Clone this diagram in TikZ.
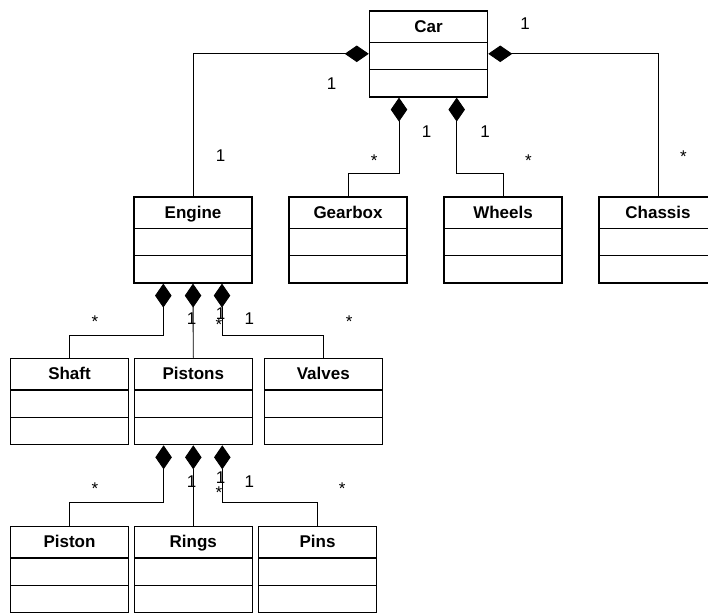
\documentclass[tikz,border=0pt]{standalone}
\usepackage{fontspec}
\setmainfont{Liberation Sans}
\usetikzlibrary{arrows.meta,positioning,shapes.multipart}

\begin{document}
\begin{tikzpicture}[x=1pt,y=-1pt,
  cls/.style={rectangle split,rectangle split parts=3,draw,line width=1.5pt,
    text width=110pt,inner xsep=4pt,inner ysep=0pt,align=center,anchor=north,
    font=\fontsize{17}{20}\selectfont\bfseries,
    rectangle split ignore empty parts=false,
    rectangle split empty part height=25.8pt,rectangle split empty part depth=0pt,
    execute at begin node=\rule[-9.3pt]{0pt}{30pt}},
  comp/.style={{Diamond[length=24pt,width=16.5pt]}-,line width=0.9pt},
  mult/.style={font=\fontsize{17}{20}\selectfont,inner sep=0pt,anchor=base}]

  \useasboundingbox (0,0) rectangle (708,613);

  \node[cls] (car) at (428.5,10) {Car};

  \node[cls] (engine) at (193,196) {Engine};
  \node[cls] (gearbox) at (348,196) {Gearbox};
  \node[cls] (wheels) at (503,196) {Wheels};
  \node[cls] (chassis) at (658,196) {Chassis};

  \node[cls] (shaft) at (69.5,357.7) {Shaft};
  \node[cls] (pistons) at (193.3,357.7) {Pistons};
  \node[cls] (valves) at (323.3,357.7) {Valves};

  \node[cls] (piston) at (69.5,525.7) {Piston};
  \node[cls] (rings) at (193.3,525.7) {Rings};
  \node[cls] (pins) at (317.5,525.7) {Pins};

  % car parts
  \draw[comp] (car.west) -| (engine.north);
  \draw[comp] (car.east) -| (chassis.north);
  \draw[comp] ([xshift=-29.5pt]car.south) -- ++(0,76) -| (gearbox.north);
  \draw[comp] ([xshift=28.2pt]car.south) -- ++(0,76) -| (wheels.north);

  \node[mult] (m1) at (525,29) {1};
  \node[mult] (m2) at (331.7,89.6) {1};
  \node[mult] (m3) at (426.7,137) {1};
  \node[mult] (m4) at (485,137) {1};
  \node[mult] (m5) at (220.7,161.6) {1};
  \node[mult] (m6) at (374.3,166) {*};
  \node[mult] (m7) at (528.3,166) {*};
  \node[mult] (m8) at (683.3,162) {*};

  % engine parts
  \draw[comp] ([xshift=-29.7pt]engine.south) -- ++(0,51.7) -| (shaft.north);
  \draw[comp] (engine.south) -- (pistons.north);
  \draw[comp] ([xshift=29pt]engine.south) -- ++(0,51.7) -| (valves.north);

  \node[mult] (e1) at (95,327.3) {*};
  \node[mult] (e2) at (191.7,324) {1};
  \node[mult] (e3) at (220.7,319.6) {1};
  \node[mult] (e4) at (219,330.7) {*};
  \node[mult] (e5) at (249.3,324.3) {1};
  \node[mult] (e6) at (349.3,327.3) {*};

  % piston parts
  \draw[comp] ([xshift=-29.7pt]pistons.south) -- ++(0,56.7) -| (piston.north);
  \draw[comp] (pistons.south) -- (rings.north);
  \draw[comp] ([xshift=29pt]pistons.south) -- ++(0,56.7) -| (pins.north);

  \node[mult] (p1) at (95,494.7) {*};
  \node[mult] (p2) at (191.7,487.3) {1};
  \node[mult] (p3) at (220.7,483) {1};
  \node[mult] (p4) at (219,498.3) {*};
  \node[mult] (p5) at (249.3,487.3) {1};
  \node[mult] (p6) at (342.3,494.7) {*};

\end{tikzpicture}
\end{document}
